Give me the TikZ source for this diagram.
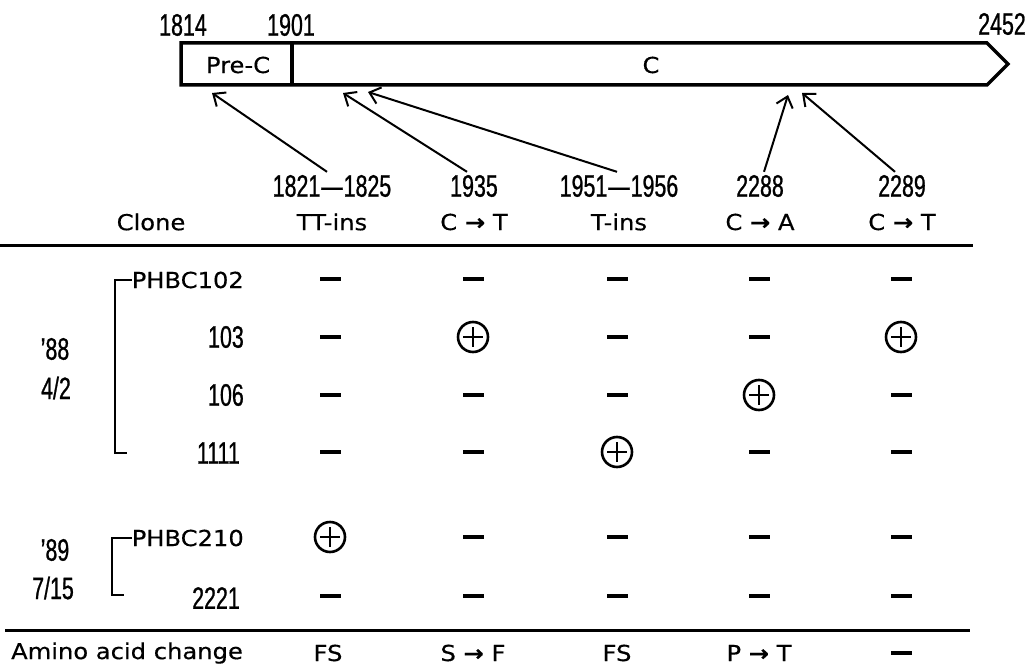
\documentclass[tikz,border=0pt]{standalone}
\usepackage{fontspec}
\setmainfont{DejaVu Sans}[FakeStretch=1.1,FakeBold=0.4]
\newfontfamily\numfont{Liberation Sans}[FakeStretch=0.69,FakeBold=0.8]
\usetikzlibrary{arrows.meta}

\newcommand{\txt}{\fontsize{22}{26}\selectfont}
\newcommand{\nums}{\numfont\fontsize{31}{34}\selectfont}
\newcommand{\mutto}{{\bfseries →}}
\newcommand{\rng}{\hspace{1pt}—\hspace{1pt}}

\begin{document}
\begin{tikzpicture}[x=1pt,y=-1pt,
  lbl/.style={font=\txt,inner sep=2pt},
  num/.style={font=\nums,inner sep=3pt},
  clone/.style={anchor=east,inner sep=0pt},
  celln/.style={fill,minimum width=21pt,minimum height=3.6pt,inner sep=0pt},
  cellp/.style={circle,draw,line width=2.6pt,minimum size=30pt,inner sep=0pt,
    path picture={\draw[line width=2.4pt]
      ([yshift=10pt]path picture bounding box.center) -- ([yshift=-10pt]path picture bounding box.center)
      ([xshift=-10pt]path picture bounding box.center) -- ([xshift=10pt]path picture bounding box.center);}},
  mutarr/.style={line width=2pt,-{Straight Barb[length=10pt,width=17pt,line width=2pt]}},
  brk/.style={line width=2pt},
  rule/.style={line width=3pt}]
\useasboundingbox (0,0) rectangle (1035,666);

% gene map
\draw[line width=3.5pt,line join=miter] (181,43) -- (987,43) -- (1008,64) -- (987,85) -- (181,85) -- cycle;
\draw[line width=3.5pt] (292,43) -- (292,85);
\node[lbl] (prec) at (238,65) {Pre-C};
\node[lbl] (core) at (651,65) {C};
\node[num] (n1814) at (183,25) {1814};
\node[num] (n1901) at (291,25) {1901};
\node[num] (n2452) at (1002,24) {2452};

% mutation sites
\foreach \i/\x/\site/\kind in {1/332/{1821\rng1825}/TT-ins,2/474/1935/{C \mutto{} T},3/619/{1951\rng1956}/T-ins,4/760/2288/{C \mutto{} A},5/902/2289/{C \mutto{} T}} {
  \node[num] (p\i) at (\x,186) {\site};
  \node[lbl] (h\i) at (\x,222) {\kind};
}
\node[lbl] (clone) at (151,222) {Clone};
\foreach \i/\dx/\tx/\ty in {1/-5/212/93,2/-7/343/93,3/-2/368/92,4/4/788/95,5/-7/802/93} {
  \coordinate (t\i) at (\tx,\ty);
  \draw[mutarr] ([xshift=\dx pt]p\i.north) -- (t\i);
}

\coordinate (r1a) at (0,245);
\coordinate (r1b) at (973,245);
\draw[rule] (r1a) -- (r1b);

% clones
\node[lbl,clone] (k1) at (244,280) {PHBC102};
\node[num,clone] (k2) at (244,337) {103};
\node[num,clone] (k3) at (244,395) {106};
\node[num,clone] (k4) at (240,453) {1111};
\node[lbl,clone] (k5) at (244,538) {PHBC210};
\node[num,clone] (k6) at (240,598) {2221};
\coordinate (g1) at (115,453);
\draw[brk] (k1.west) -| (g1) -- ++(12,0);
\coordinate (g2) at (112,595);
\draw[brk] (k5.west) -| (g2) -- ++(12,0);
\node[num] (y88) at (55,349) {’88};
\node[num] (d88) at (56,388) {4/2};
\node[num] (y89) at (55,550) {’89};
\node[num] (d89) at (53,588) {7/15};

% results
\foreach \y/\a/\b/\c/\d/\e [count=\row] in {279/n/n/n/n/n,337/n/p/n/n/p,395/n/n/n/p/n,452/n/n/p/n/n,537/p/n/n/n/n,596/n/n/n/n/n} {
  \foreach \x/\v [count=\k] in {330/\a,473/\b,617/\c,759/\d,901/\e}
    \node[cell\v] (c\row\k) at (\x,\y) {};
}

\coordinate (r2a) at (5,630);
\coordinate (r2b) at (970,630);
\draw[rule] (r2a) -- (r2b);

% amino acid row
\node[lbl] (aa) at (127,653) {Amino acid change};
\foreach \i/\x/\aa in {1/328/FS,2/473/{S \mutto{} F},3/617/FS,4/759/{P \mutto{} T}}
  \node[lbl] (aa\i) at (\x,653) {\aa};
\node[celln] (aa5) at (901,653) {};
\end{tikzpicture}
\end{document}
